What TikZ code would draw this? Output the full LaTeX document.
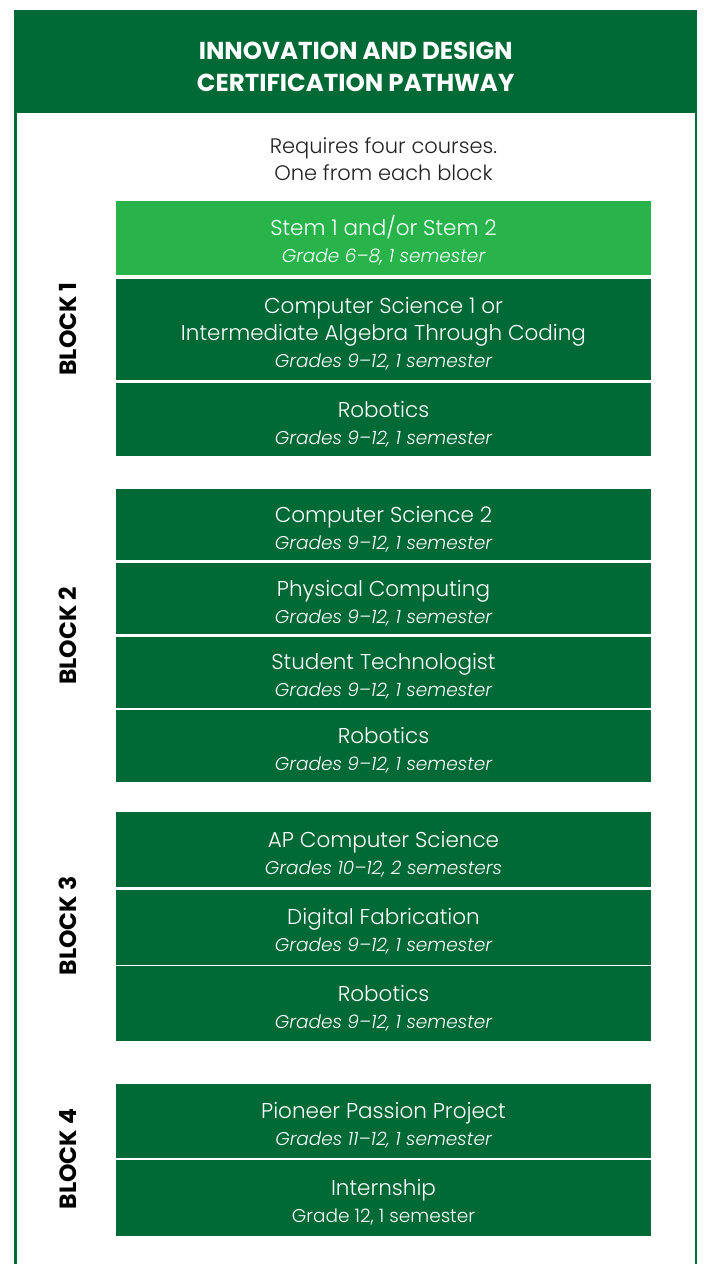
\documentclass[tikz,border=0pt]{standalone}
\usepackage{fontspec}
\setmainfont{Poppins}[UprightFont=* Light, ItalicFont=* Light Italic, BoldFont=* SemiBold]
\newfontfamily\headfont{Poppins}[UprightFont=* Bold]
\definecolor{dkgreen}{HTML}{006A36}
\definecolor{ltgreen}{HTML}{28B34B}
\definecolor{txtgray}{HTML}{222222}
\tikzset{
  course/.style={fill=dkgreen, text=white, minimum width=535pt, inner sep=0pt, align=center, anchor=north, font=\fontsize{21.5}{27}\selectfont},
  lightcourse/.style={course, fill=ltgreen},
  blocklabel/.style={rotate=90, font=\headfont\fontsize{23.5}{24}\selectfont, text=black}
}
\newcommand{\toprule}{\rule{0pt}{25pt}}
\newcommand{\subl}[1]{\fontsize{18.5}{27}\selectfont\itshape #1}
\begin{document}
\begin{tikzpicture}[x=1pt,y=-1pt]
\useasboundingbox (0,0) rectangle (704,1264);
\fill[white] (0,0) rectangle (704,1264);
% frame
\draw[dkgreen, line width=2.5pt] (15.25,113) -- (15.25,1264);
\draw[dkgreen, line width=2.5pt] (695.75,113) -- (695.75,1264);
\node[fill=dkgreen, minimum width=683pt, minimum height=103pt, anchor=north west, inner sep=0pt, text=white, align=center, font=\headfont\fontsize{24.5}{32}\selectfont] (title) at (14,10) {\rule{0pt}{28pt}INNOVATION AND DESIGN\\CERTIFICATION PATHWAY};
\node[text=txtgray, align=center, font=\fontsize{21}{27}\selectfont] (intro) at (383.5,159) {Requires four courses.\\One from each block};
% block 1
\node[lightcourse, minimum height=74pt] (stem) at (383.5,201) {\toprule Stem 1 and/or Stem 2\\\subl{Grade 6–8, 1 semester}};
\node[course, minimum height=101pt] (cs1) at (383.5,279) {\toprule Computer Science 1 or\\Intermediate Algebra Through Coding\\\subl{Grades 9–12, 1 semester}};
\node[course, minimum height=73pt] (rob1) at (383.5,383) {\toprule Robotics\\\subl{Grades 9–12, 1 semester}};
\node[blocklabel] (b1) at (68,329) {BLOCK 1};
% block 2
\node[course, minimum height=71pt] (cs2) at (383.5,489) {\toprule Computer Science 2\\\subl{Grades 9–12, 1 semester}};
\node[course, minimum height=71pt] (phys) at (383.5,563) {\toprule Physical Computing\\\subl{Grades 9–12, 1 semester}};
\node[course, minimum height=71pt] (stud) at (383.5,636.5) {\toprule Student Technologist\\\subl{Grades 9–12, 1 semester}};
\node[course, minimum height=72pt] (rob2) at (383.5,710) {\toprule Robotics\\\subl{Grades 9–12, 1 semester}};
\node[blocklabel] (b2) at (68,636) {BLOCK 2};
% block 3
\node[course, minimum height=75.5pt] (ap) at (383.5,811.5) {\toprule AP Computer Science\\\subl{Grades 10–12, 2 semesters}};
\node[course, minimum height=75pt] (dig) at (383.5,889.3) {\toprule Digital Fabrication\\\subl{Grades 9–12, 1 semester}};
\node[course, minimum height=75pt] (rob3) at (383.5,966) {\toprule Robotics\\\subl{Grades 9–12, 1 semester}};
\node[blocklabel] (b3) at (68,926) {BLOCK 3};
% block 4
\node[course, minimum height=73.5pt] (pion) at (383.5,1084) {\toprule Pioneer Passion Project\\\subl{Grades 11–12, 1 semester}};
\node[course, minimum height=75.5pt] (intern) at (383.5,1160) {\toprule Internship\\{\fontsize{18.5}{27}\selectfont Grade 12, 1 semester}};
\node[blocklabel] (b4) at (68,1159) {BLOCK 4};
\end{tikzpicture}
\end{document}
